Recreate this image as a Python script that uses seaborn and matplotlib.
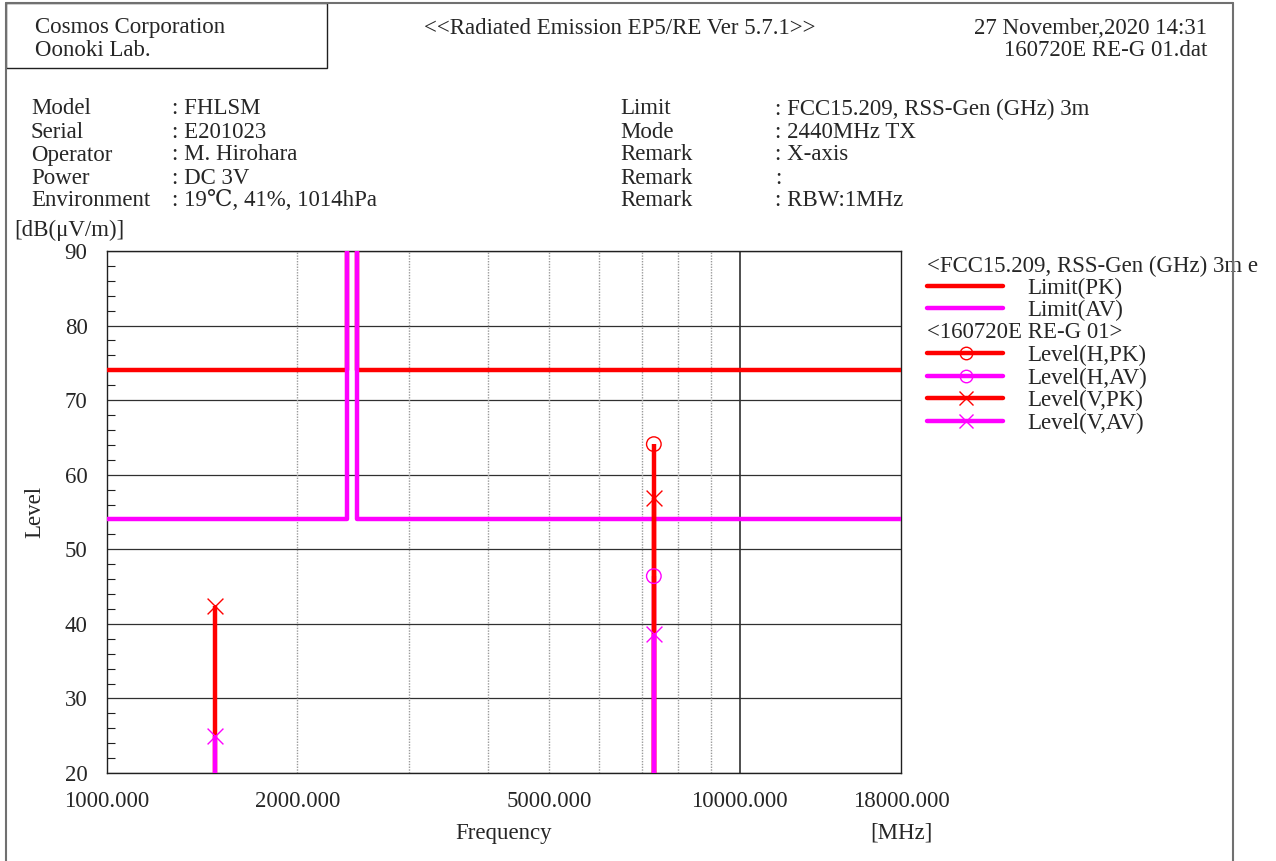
import numpy as np
import pandas as pd
import matplotlib
matplotlib.use("Agg")
import matplotlib.pyplot as plt
from matplotlib.lines import Line2D
from matplotlib.patches import Rectangle
from matplotlib.ticker import FixedLocator, NullFormatter
import seaborn as sns

# ---- limit lines (MHz, dB(uV/m)) ----
limit_pk_freq = [1000, 2400, 2400, 2483.5, 2483.5, 18000]
limit_pk_level = [74, 74, 100, 100, 74, 74]
limit_av_freq = [1000, 2400, 2400, 2483.5, 2483.5, 18000]
limit_av_level = [54, 54, 100, 100, 54, 54]

# ---- measured levels ----
h_pk_freq = [7320]
h_pk_level = [64.1]
h_av_freq = [7320]
h_av_level = [46.4]
v_pk_freq = [1480, 7320]
v_pk_level = [42.4, 56.9]
v_av_freq = [1480, 7320]
v_av_level = [25.0, 38.6]

x_tick_values = [1000, 2000, 5000, 10000, 18000]
x_tick_labels = ["1000.000", "2000.000", "5000.000", "10000.000", "18000.000"]
x_minor_grid = [2000, 3000, 4000, 5000, 6000, 7000, 8000, 9000]
y_ticks = [20, 30, 40, 50, 60, 70, 80, 90]

RED = "#FF0000"
MAG = "#FF00FF"

sns.set_theme(style="white")
plt.rcParams["font.family"] = ["Liberation Serif", "DejaVu Serif", "DejaVu Sans"]
FS = 16.5

W, H = 1276, 861
fig = plt.figure(figsize=(W / 100, H / 100), dpi=100)
ax = fig.add_axes([107 / W, 1 - 773 / H, (901 - 107) / W, (773 - 251) / H])


def fx(px):
    return px / W


def fy(py):
    return 1 - py / H


def label(px, py, s, **kw):
    # page text placed by its pixel position, nudged onto the text's visual centre
    fig.text(fx(px), fy(py + 2), s, fontsize=FS, va="center", **kw)


# ---- page frame and header ----
frame_col = "#707070"
fig.add_artist(Line2D([fx(6), fx(1233)], [fy(3), fy(3)], color=frame_col, lw=1.5))
fig.add_artist(Line2D([fx(6), fx(6)], [fy(3), fy(861)], color=frame_col, lw=1.5))
fig.add_artist(Line2D([fx(1233), fx(1233)], [fy(3), fy(861)], color=frame_col, lw=1.5, zorder=20))
fig.add_artist(Rectangle((fx(6), fy(68)), fx(327 - 6), fy(3) - fy(68), fill=False,
                         edgecolor="#202020", lw=1.0, transform=fig.transFigure))

label(35, 26, "Cosmos Corporation")
label(35, 48, "Oonoki Lab.")
label(424, 26, "<<Radiated Emission EP5/RE Ver 5.7.1>>")
label(1207, 26, "27 November,2020 14:31", ha="right")
label(1207, 48, "160720E RE-G 01.dat", ha="right")

left_labels = ["Model", "Serial", "Operator", "Power", "Environment"]
left_values = [": FHLSM", ": E201023", ": M. Hirohara", ": DC 3V", ": 19℃, 41%, 1014hPa"]
right_labels = ["Limit", "Mode", "Remark", "Remark", "Remark"]
right_values = [": FCC15.209, RSS-Gen (GHz) 3m", ": 2440MHz TX", ": X-axis", ":", ": RBW:1MHz"]
row_y = [107, 130, 153, 176, 198]
for i, yy in enumerate(row_y):
    label(31, yy, left_labels[i])
    label(172, yy, left_values[i])
    label(620, yy, right_labels[i])
    label(775, yy, right_values[i])

label(14, 228, "[dB(μV/m)]")

# ---- limits ----
lim_pk = pd.DataFrame({"freq": limit_pk_freq, "level": limit_pk_level})
lim_av = pd.DataFrame({"freq": limit_av_freq, "level": limit_av_level})
sns.lineplot(data=lim_pk, x="freq", y="level", sort=False, estimator=None, errorbar=None,
             color=RED, lw=3.2, ax=ax, zorder=4)
sns.lineplot(data=lim_av, x="freq", y="level", sort=False, estimator=None, errorbar=None,
             color=MAG, lw=3.2, ax=ax, zorder=5)

# ---- measured levels as stems with markers ----
floor = 20
series = [
    (h_pk_freq, h_pk_level, RED, "o"),
    (h_av_freq, h_av_level, MAG, "o"),
    (v_pk_freq, v_pk_level, RED, "x"),
    (v_av_freq, v_av_level, MAG, "x"),
]
for k, (fr, lv, col, mk) in enumerate(series):
    ax.vlines(fr, floor, lv, colors=col, lw=3.2, zorder=6 + k)
for k, (fr, lv, col, mk) in enumerate(series):
    df = pd.DataFrame({"freq": fr, "level": lv})
    if mk == "o":
        sns.scatterplot(data=df, x="freq", y="level", marker="o", s=110, facecolor="none",
                        edgecolor=col, linewidth=1.0, ax=ax, zorder=12)
    else:
        sns.scatterplot(data=df, x="freq", y="level", marker="x", s=130, color=col,
                        linewidth=1.0, ax=ax, zorder=12)

# ---- axes ----
ax.set_xscale("log")
ax.set_xlim(1000, 18000)
ax.set_ylim(20, 90)
ax.xaxis.set_major_locator(FixedLocator(x_tick_values))
ax.set_xticklabels(x_tick_labels, fontsize=FS)
ax.xaxis.set_minor_locator(FixedLocator(x_minor_grid))
ax.xaxis.set_minor_formatter(NullFormatter())
ax.set_yticks(y_ticks)
ax.set_yticklabels([str(v) for v in y_ticks], fontsize=FS)
ax.yaxis.set_minor_locator(FixedLocator(np.arange(20, 91, 2)))
ax.tick_params(axis="x", which="both", length=0, pad=13)
ax.tick_params(axis="y", which="major", length=0, pad=14)
ax.tick_params(axis="y", which="minor", direction="in", length=6, width=0.8, color="#202020", left=True)

ax.grid(False)
for yv in y_ticks:
    ax.axhline(yv, color="#303030", lw=0.9, zorder=1)
for xv in x_minor_grid:
    ax.axvline(xv, color="#9a9a9a", lw=1.0, ls=(0, (1, 1)), zorder=1)
ax.axvline(10000, color="#303030", lw=1.2, zorder=1)
for sp in ax.spines.values():
    sp.set_color("#202020")
    sp.set_linewidth(1.0)

ax.set_xlabel("")
ax.set_ylabel("")
label(504, 831, "Frequency", ha="center")
label(901, 831, "[MHz]", ha="center")
fig.text(fx(35), fy(512), "Level", fontsize=FS, ha="center", va="center", rotation=90)

# ---- legend ----
label(927, 264, "<FCC15.209, RSS-Gen (GHz) 3m e")
label(927, 331, "<160720E RE-G 01>")
legend_rows = [
    (286, RED, None, "Limit(PK)"),
    (308, MAG, None, "Limit(AV)"),
    (353, RED, "o", "Level(H,PK)"),
    (376, MAG, "o", "Level(H,AV)"),
    (398, RED, "x", "Level(V,PK)"),
    (421, MAG, "x", "Level(V,AV)"),
]
for yy, col, mk, lab in legend_rows:
    fig.add_artist(Line2D([fx(927), fx(1003)], [fy(yy), fy(yy)], color=col, lw=3.2))
    if mk is not None:
        fig.add_artist(Line2D([fx(966)], [fy(yy)], marker=mk, ms=9 if mk == "o" else 10,
                              mfc="none", mec=col, mew=1.0, ls="none"))
    label(1027, yy, lab)

fig.savefig("out.png", dpi=100)
